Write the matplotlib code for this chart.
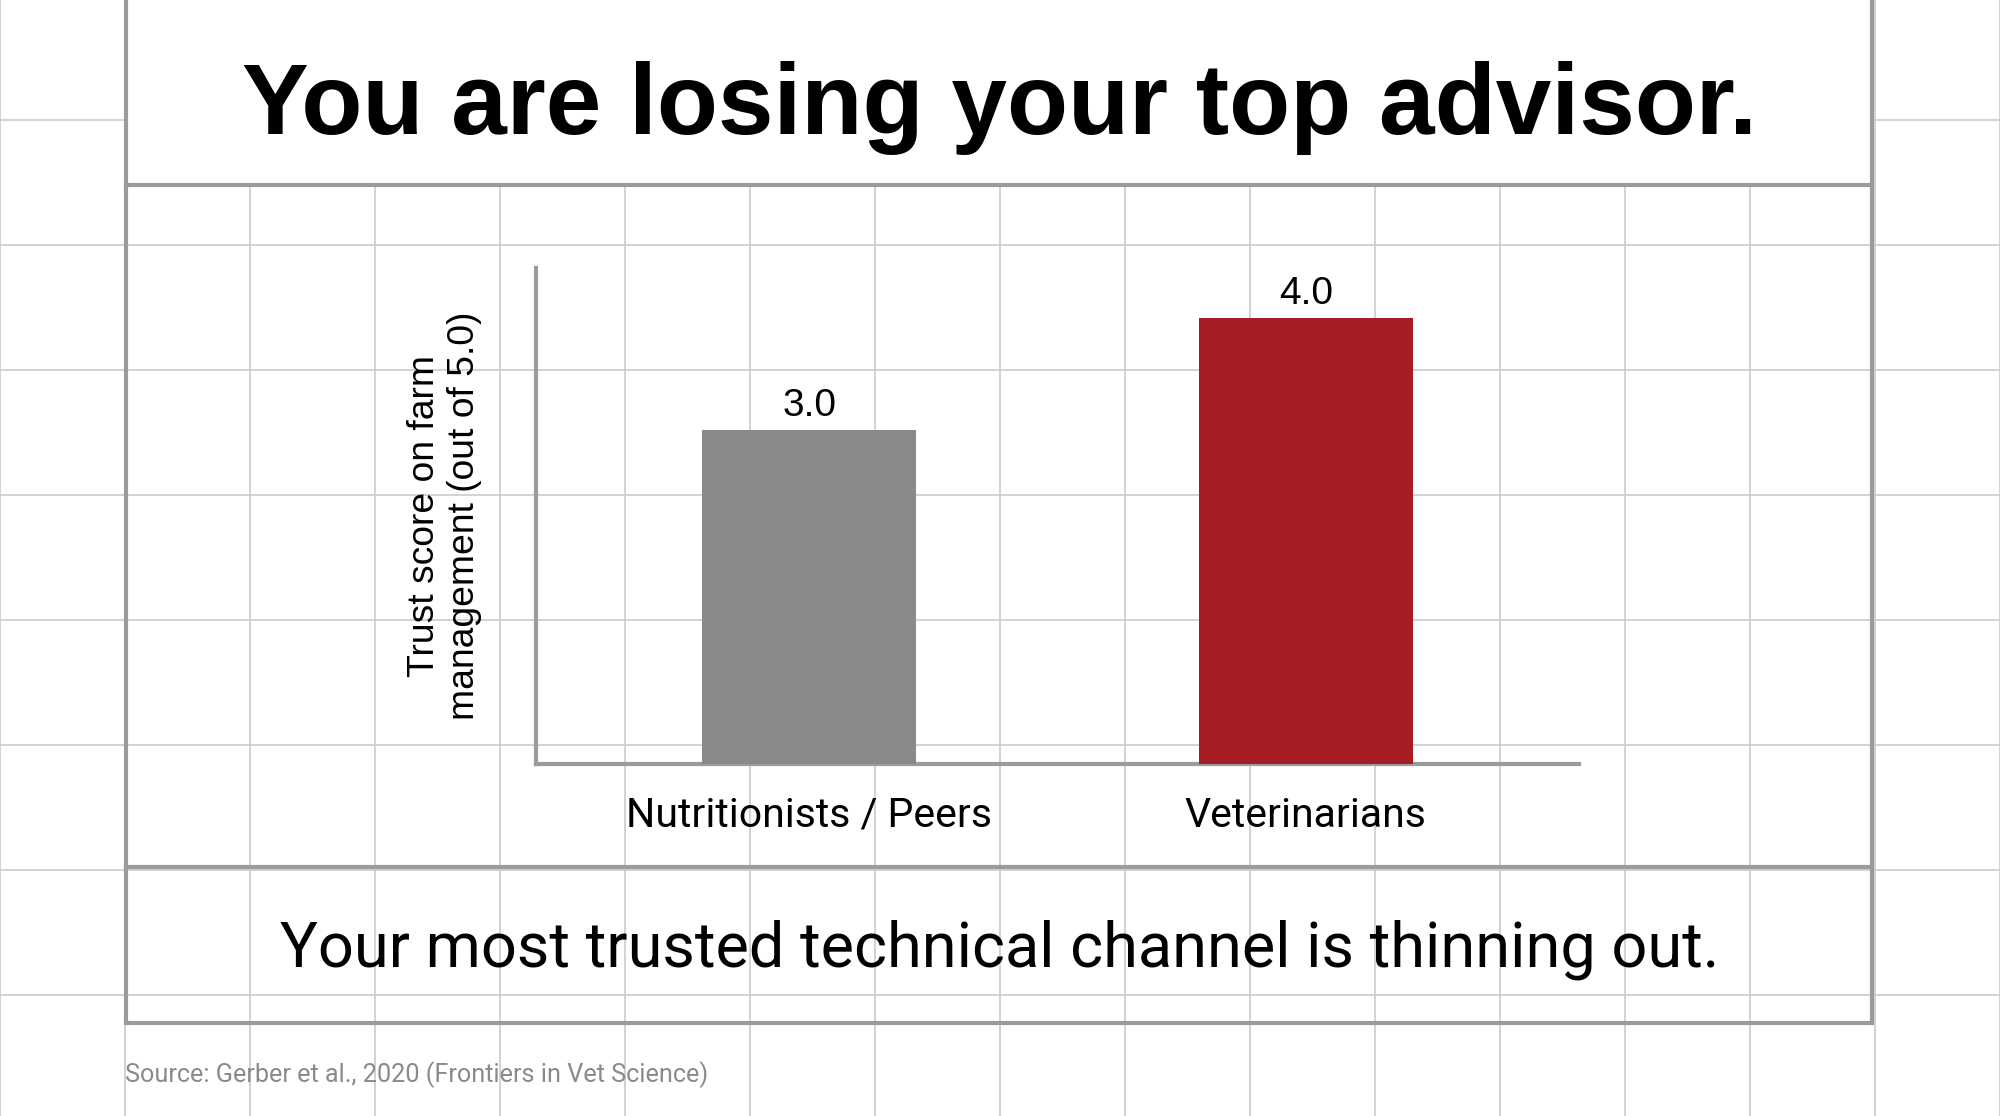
import matplotlib
matplotlib.use('Agg')
import matplotlib.pyplot as plt
from matplotlib.lines import Line2D
from matplotlib.patches import Rectangle

categories = ['Nutritionists / Peers', 'Veterinarians']
trust_scores = [3.0, 4.0]
bar_colors = ['#8a8a8a', '#a51c24']

title = 'You are losing your top advisor.'
subtitle = 'Your most trusted technical channel is thinning out.'
source = 'Source: Gerber et al., 2020 (Frontiers in Vet Science)'
ylabel = 'Trust score on farm\nmanagement (out of 5.0)'

W, H = 2000, 1116
fig = plt.figure(figsize=(20, 11.16), dpi=100)
fig.patch.set_facecolor('white')


def fx(x):
    return x / W


def fy(y):
    return 1 - y / H


grid_c = '#cbcbcb'
frame_c = '#9b9b9b'

# background graph-paper grid
for k in range(17):
    x = 125 * k
    fig.add_artist(Line2D([fx(x), fx(x)], [0, 1], color=grid_c, lw=1.2, zorder=0))
for k in range(9):
    y = 120 + 125 * k
    fig.add_artist(Line2D([0, 1], [fy(y), fy(y)], color=grid_c, lw=1.2, zorder=0))

# white title band inside the frame
fig.add_artist(Rectangle((fx(126), fy(185)), fx(1872) - fx(126), 1 - fy(185),
                         facecolor='white', edgecolor='none', zorder=1))

# frame
L, R = 126, 1872
for y in (185, 867, 1023):
    fig.add_artist(Line2D([fx(L), fx(R)], [fy(y), fy(y)], color=frame_c, lw=3, zorder=2))
for x in (L, R):
    fig.add_artist(Line2D([fx(x), fx(x)], [1, fy(1023)], color=frame_c, lw=3, zorder=2))

fig.text(0.5, fy(134), title, ha='center', va='baseline', fontsize=72,
         fontweight='bold', family='Liberation Sans', color='black', zorder=3)
fig.text(0.5, fy(966), subtitle, ha='center', va='baseline', fontsize=45.4,
         family='Roboto', color='black', zorder=3)
fig.text(fx(125), fy(1082), source, ha='left', va='baseline', fontsize=18.2,
         family='Roboto', color='#8a8a8a', zorder=3)

# bar chart
ax = fig.add_axes([fx(536), fy(764), fx(1579) - fx(536), fy(268) - fy(764)])
ax.set_facecolor('none')
bars = ax.bar(range(len(categories)), trust_scores, width=0.43, color=bar_colors, zorder=3)
ax.set_xlim(-0.55, 1.55)
ax.set_ylim(0, 4.45)

for b, v in zip(bars, trust_scores):
    ax.annotate(f'{v:.1f}', (b.get_x() + b.get_width() / 2, v), xytext=(0, 10),
                textcoords='offset points', ha='center', va='baseline',
                fontsize=28, family='Liberation Sans', color='black')

for s in ('top', 'right'):
    ax.spines[s].set_visible(False)
for s in ('left', 'bottom'):
    ax.spines[s].set_color(frame_c)
    ax.spines[s].set_linewidth(3)

ax.set_xticks(range(len(categories)))
ax.set_xticklabels(categories, fontsize=29.5, family='Roboto')
ax.tick_params(axis='x', length=0, pad=23)
ax.set_yticks([])

ax.set_ylabel(ylabel, fontsize=26.8, family='Liberation Sans', va='center',
              multialignment='center', linespacing=1.2)
ax.yaxis.set_label_coords(-0.088, 0.5)

fig.savefig('out.png', dpi=100, facecolor='white')
